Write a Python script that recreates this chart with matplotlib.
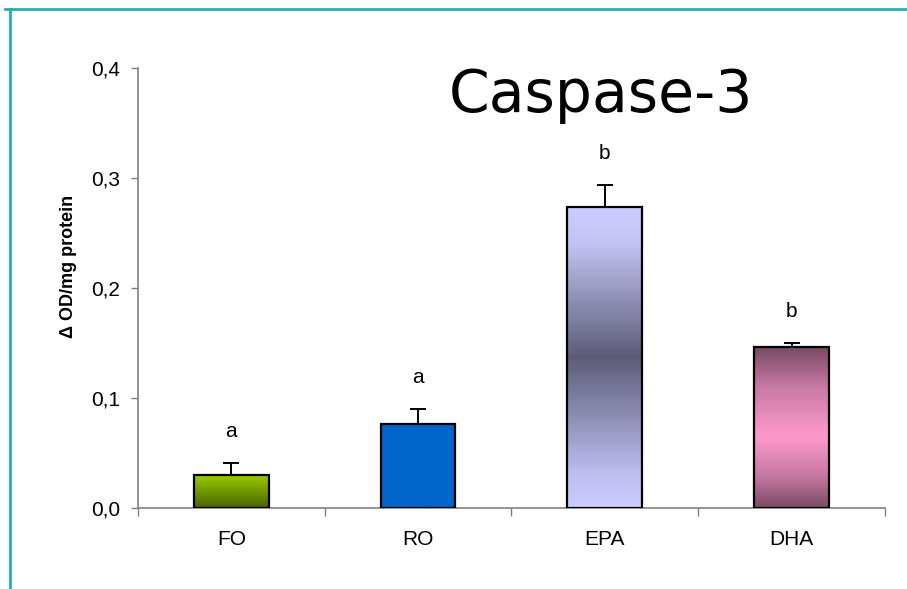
import numpy as np
import matplotlib.pyplot as plt
from matplotlib.colors import LinearSegmentedColormap
from matplotlib.lines import Line2D

plt.rcParams['font.family'] = ['Liberation Sans', 'DejaVu Sans']

# data
groups = ['FO', 'RO', 'EPA', 'DHA']
means = [0.030, 0.076, 0.274, 0.146]
sems = [0.011, 0.014, 0.020, 0.004]
letters = ['a', 'a', 'b', 'b']

# vertical gradients (top -> bottom) for each bar
grads = [
    [(0.0, '#99cc00'), (1.0, '#4a6200')],
    [(0.0, '#0066cc'), (1.0, '#0066cc')],
    [(0.0, '#ccccff'), (0.12, '#c4c4f4'), (0.5, '#5c5c78'), (0.88, '#bcbcee'), (1.0, '#ccccff')],
    [(0.0, '#7a4a63'), (0.25, '#c77aa3'), (0.55, '#ff99cc'), (0.8, '#c77aa3'), (1.0, '#7a4a63')],
]

fig = plt.figure(figsize=(9.07, 5.89), dpi=100)
ax = fig.add_axes([0.1521, 0.1375, 0.8236, 0.747])

x = np.arange(len(groups))
bars = ax.bar(x, means, width=0.4, facecolor='none', edgecolor='black', linewidth=1.6, zorder=3)

# fill bars with gradient images
for b, g in zip(bars, grads):
    cmap = LinearSegmentedColormap.from_list('g', g)
    x0, y0 = b.get_x(), b.get_y()
    w, h = b.get_width(), b.get_height()
    img = np.linspace(0, 1, 256).reshape(-1, 1)
    ax.imshow(img, cmap=cmap, aspect='auto', extent=(x0, x0 + w, y0, y0 + h),
              origin='upper', zorder=2, interpolation='bilinear')

ax.errorbar(x, means, yerr=[np.zeros(len(sems)), sems], fmt='none', ecolor='black',
            elinewidth=1.4, capsize=6, capthick=1.4, zorder=1)

for xi, m, s, t in zip(x, means, sems, letters):
    ax.text(xi, m + s + 0.02, t, ha='center', va='bottom', fontsize=15)

ax.set_xlim(-0.5, len(groups) - 0.5)
ax.set_ylim(0, 0.4)
ax.set_yticks([0, 0.1, 0.2, 0.3, 0.4])
ax.set_yticklabels(['0,0', '0,1', '0,2', '0,3', '0,4'], fontsize=15)
ax.set_xticks(x)
ax.set_xticklabels(groups, fontsize=15)
ax.tick_params(axis='x', length=0, pad=16)
ax.tick_params(axis='y', length=5, color='#808080', width=1, pad=8)
ax.set_xticks(np.arange(-0.5, len(groups)), minor=True)
ax.tick_params(axis='x', which='minor', length=6, color='#808080', width=1)

for s in ['top', 'right']:
    ax.spines[s].set_visible(False)
for s in ['left', 'bottom']:
    ax.spines[s].set_color('#808080')
    ax.spines[s].set_linewidth(1.2)

ax.set_ylabel('\u0394 OD/mg protein', fontsize=13, fontweight='bold')
ax.yaxis.set_label_coords(-0.082, 0.55)

ax.text(0.62, 0.90, 'Caspase-3', transform=ax.transAxes, fontsize=42,
        ha='center', va='baseline', family=['DejaVu Sans'])

# slide border
fig.add_artist(Line2D([0.006, 1.0], [0.985, 0.985], transform=fig.transFigure, color='#2aacac', lw=2))
fig.add_artist(Line2D([0.011, 0.011], [0.0, 0.985], transform=fig.transFigure, color='#2aacac', lw=2))

fig.savefig('out.png', dpi=100)
